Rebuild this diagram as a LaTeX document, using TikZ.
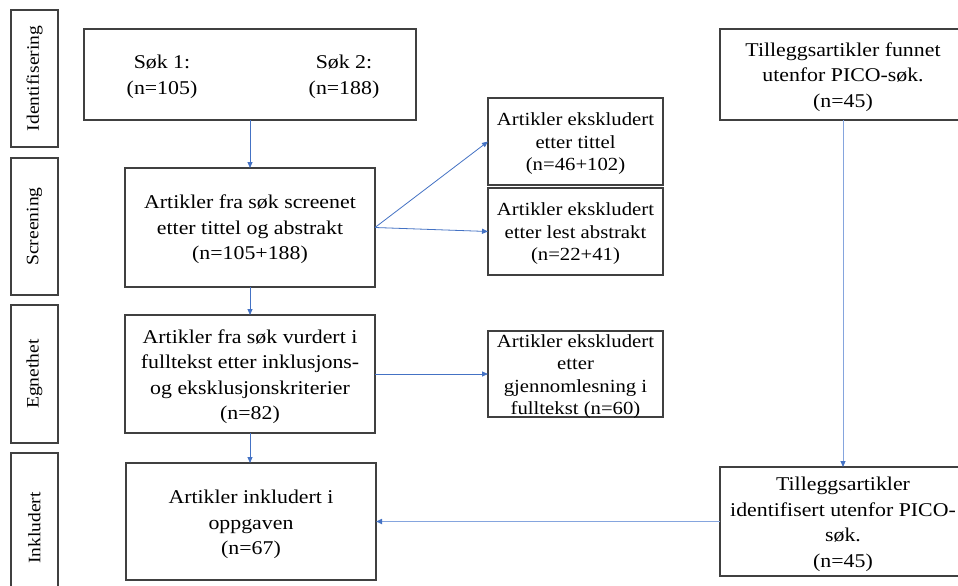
\documentclass[tikz,border=0pt]{standalone}
\usepackage{fontspec}
\setmainfont{Liberation Serif}[FakeStretch=1.12]
\usetikzlibrary{arrows.meta}
\definecolor{arr}{HTML}{4472C4}
\definecolor{lightarr}{HTML}{85A5DE}
\definecolor{frame}{HTML}{404040}
\begin{document}
\begin{tikzpicture}[x=1pt,y=-1pt,
  box/.style={draw=frame, line width=1.3pt, inner sep=0pt, outer sep=0pt},
  bigtext/.style={align=center, font=\fontsize{19.5}{25.5}\selectfont, inner sep=0pt},
  smalltext/.style={align=center, font=\fontsize{18.5}{22.5}\selectfont, inner sep=0pt},
  sidebox/.style={box, rotate=90, font=\fontsize{17.5}{20}\selectfont},
  conn/.style={draw=arr, line width=0.8pt, -{Triangle[length=6pt,width=5pt]}},
  lconn/.style={draw=lightarr, -{Triangle[length=6pt,width=5pt,color=arr]}}
]
\clip (0,0) rectangle (958,586);
\fill[white] (0,0) rectangle (958,586);

% side labels
\node[sidebox, minimum width=137pt, minimum height=47pt] (sI) at (34.5,78.5) {Identifisering};
\node[sidebox, minimum width=137pt, minimum height=47pt] (sS) at (34.5,226.5) {Screening};
\node[sidebox, minimum width=138pt, minimum height=47pt] (sE) at (34.5,374) {Egnethet};
\node[sidebox, minimum width=150pt, minimum height=47pt] (sK) at (34.5,528) {Inkludert};

% main boxes
\node[box, minimum width=332pt, minimum height=91pt] (b1) at (250,74.5) {};
\node[bigtext] (s1) at (162,77) {Søk 1:\\(n=105)};
\node[bigtext] (s2) at (344,77) {Søk 2:\\(n=188)};

\node[box, minimum width=250pt, minimum height=119pt] (b2) at (250,227.5) {};
\node[bigtext] (b2t) at (250,229.5) {Artikler fra søk screenet\\etter tittel og abstrakt\\(n=105+188)};
\node[box, minimum width=250pt, minimum height=118pt] (b3) at (250,374) {};
\node[bigtext] (b3t) at (250,376.5) {Artikler fra søk vurdert i\\fulltekst etter inklusjons-\\og eksklusjonskriterier\\(n=82)};
\node[box, minimum width=250pt, minimum height=117pt] (b4) at (251,521.5) {};
\node[bigtext] (b4t) at (251,524.5) {Artikler inkludert i\\oppgaven\\(n=67)};

% exclusion boxes
\node[box, minimum width=175pt, minimum height=87pt] (e1) at (575.5,141.5) {};
\node[smalltext] (e1t) at (575.5,144) {Artikler ekskludert\\etter tittel\\(n=46+102)};
\node[box, minimum width=175pt, minimum height=87pt] (e2) at (575.5,231.5) {};
\node[smalltext] (e2t) at (575.5,234) {Artikler ekskludert\\etter lest abstrakt\\(n=22+41)};
\node[box, minimum width=175pt, minimum height=86pt] (e3) at (575.5,374) {};
\node[smalltext] (e3t) at (575.5,376.5) {Artikler ekskludert\\etter\\gjennomlesning i\\fulltekst (n=60)};

% PICO boxes
\node[box, minimum width=246pt, minimum height=91pt] (p1) at (843,74.5) {};
\node[bigtext] (p1t) at (843,77) {Tilleggsartikler funnet\\utenfor PICO-søk.\\(n=45)};
\node[box, minimum width=246pt, minimum height=109pt] (p2) at (843,521.5) {};
\node[bigtext] (p2t) at (843,524.5) {Tilleggsartikler\\identifisert utenfor PICO-\\søk.\\(n=45)};

% connectors
\draw[conn] (b1.south) -- (b2.north);
\draw[conn] (b2.south) -- (b3.north);
\draw[conn] (b3.south) -- (b3.south |- b4.north);
\draw[conn] (b2.east) -- (e1.west);
\draw[conn] (b2.east) -- (e2.west);
\draw[conn] (b3.east) -- (e3.west);
\draw[lconn, line width=0.9pt] (p1.south) -- (p2.north);
\draw[lconn, line width=1.8pt] (p2.west) -- (b4.east);
\end{tikzpicture}
\end{document}
